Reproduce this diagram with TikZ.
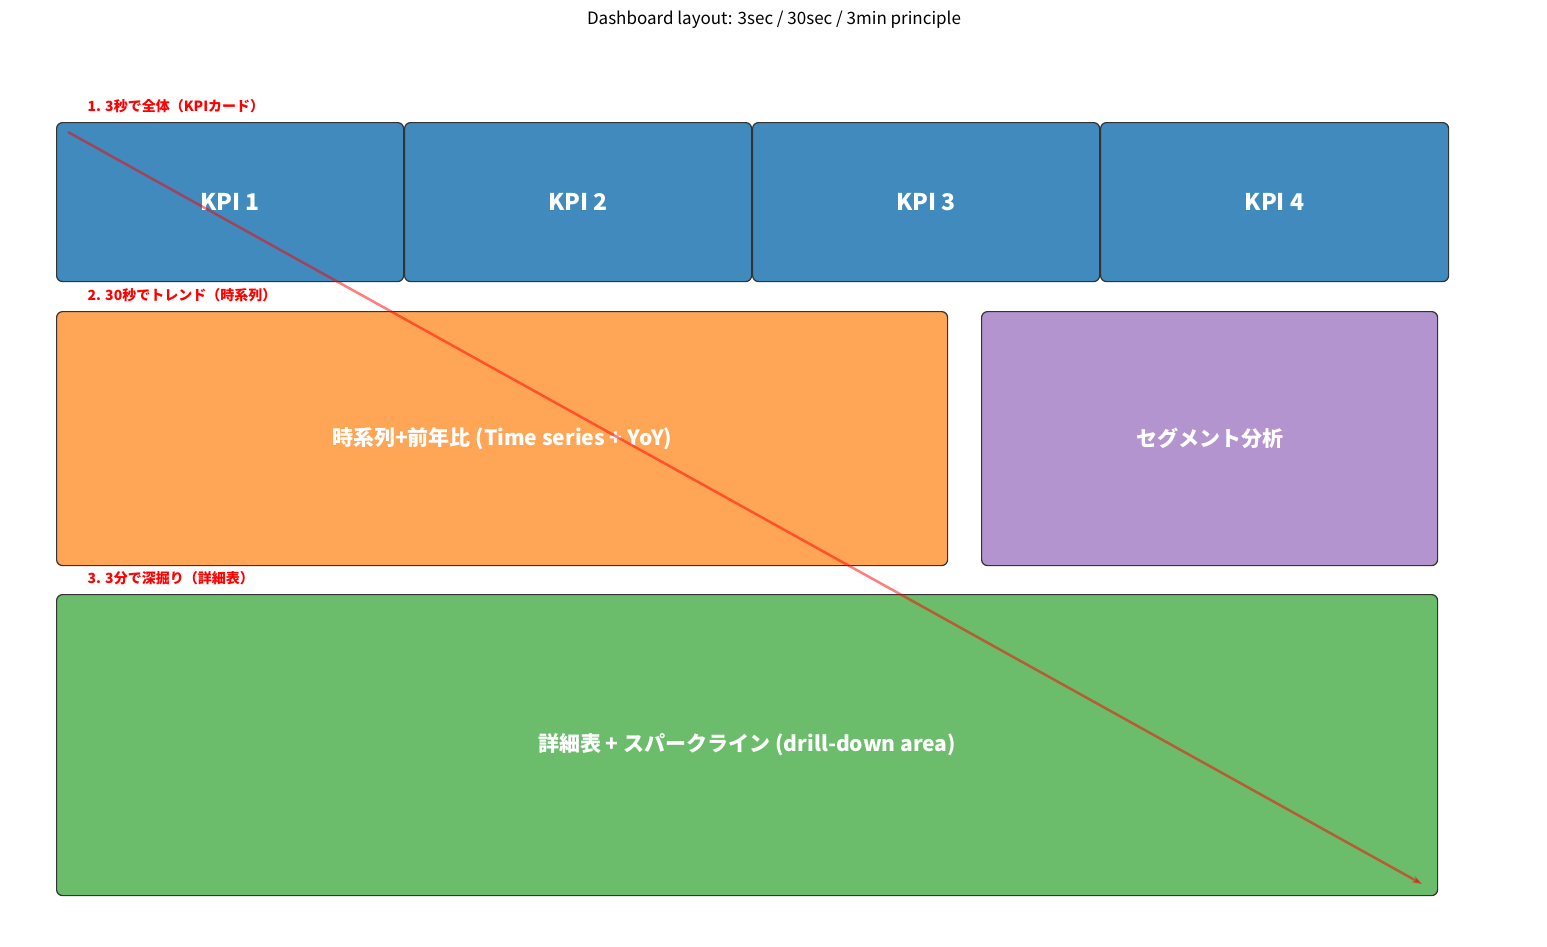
\documentclass[tikz,border=0pt]{standalone}
\usepackage{fontspec}
\setmainfont{Noto Sans CJK JP}
\usetikzlibrary{arrows.meta}
\definecolor{kpi}{HTML}{418ABD}
\definecolor{org}{HTML}{FFA556}
\definecolor{pur}{HTML}{B394CF}
\definecolor{grn}{HTML}{6BBC6B}
\begin{document}
\begin{tikzpicture}[x=1pt,y=-1pt,
 box/.style={draw=black!80,line width=1.2pt,rounded corners=6pt,anchor=north west,inner sep=0pt,text=white,font=\bfseries\fontsize{21}{24}\selectfont},
 lab/.style={anchor=west,text=red,font=\bfseries\fontsize{14}{16}\selectfont}]
\useasboundingbox (0,0) rectangle (1547,946);
\node[font=\fontsize{17}{20}\selectfont] (title) at (774,20) {Dashboard layout: 3sec / 30sec / 3min principle};
\node[lab] (l1) at (84,106) {1. 3秒で全体（KPIカード）};
\node[lab] (l2) at (84,295) {2. 30秒でトレンド（時系列）};
\node[lab] (l3) at (84,578) {3. 3分で深掘り（詳細表）};
\node[box,fill=kpi,minimum width=347pt,minimum height=159pt,font=\bfseries\fontsize{23}{26}\selectfont] (k1) at (56,122) {KPI 1};
\node[box,fill=kpi,minimum width=347pt,minimum height=159pt,font=\bfseries\fontsize{23}{26}\selectfont] (k2) at (404,122) {KPI 2};
\node[box,fill=kpi,minimum width=347pt,minimum height=159pt,font=\bfseries\fontsize{23}{26}\selectfont] (k3) at (752,122) {KPI 3};
\node[box,fill=kpi,minimum width=348pt,minimum height=159pt,font=\bfseries\fontsize{23}{26}\selectfont] (k4) at (1100,122) {KPI 4};
\node[box,fill=org,minimum width=891pt,minimum height=254pt] (ts) at (56,311) {時系列+前年比 (Time series + YoY)};
\node[box,fill=pur,minimum width=456pt,minimum height=254pt] (seg) at (981,311) {セグメント分析};
\node[box,fill=grn,minimum width=1381pt,minimum height=301pt] (dt) at (56,594) {詳細表 + スパークライン (drill-down area)};
\coordinate (a) at (68,132);
\coordinate (b) at (1422,884);
\draw[red,opacity=0.5,line width=2.5pt,-{Stealth[length=10pt,width=7pt]}] (a) -- (b);
\end{tikzpicture}
\end{document}
